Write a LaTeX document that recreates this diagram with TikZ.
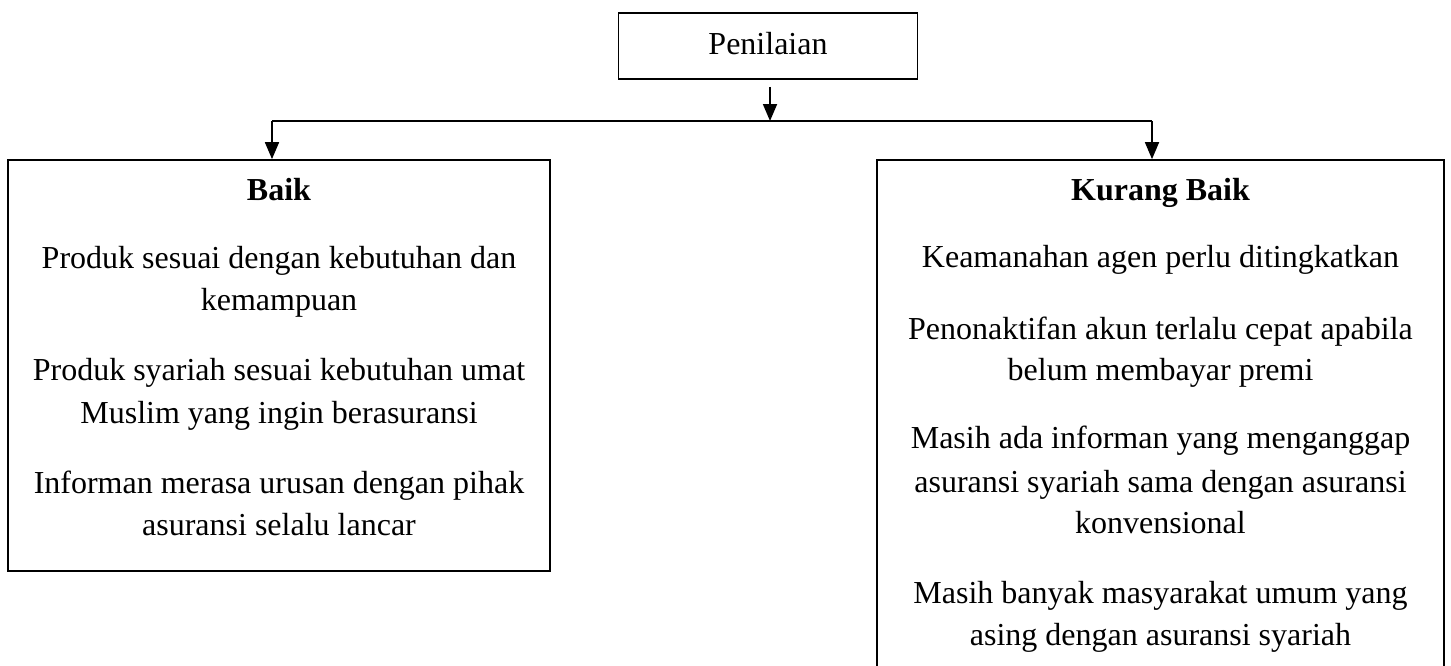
\documentclass[tikz,border=0pt]{standalone}
\usepackage{fontspec}
\setmainfont{Liberation Serif}
\usetikzlibrary{arrows.meta}
\begin{document}
\begin{tikzpicture}[x=0.75pt,y=-0.75pt,
  box/.style={draw,line width=1.3pt,inner sep=0pt,rectangle},
  txt/.style={anchor=base,inner sep=0pt,font=\fontsize{24}{29}\selectfont},
  ttl/.style={txt,font=\fontsize{24}{29}\selectfont\bfseries},
  conn/.style={line width=1.3pt},
  arr/.style={conn,-{Triangle[length=12.75pt,width=10.5pt]}}]
\useasboundingbox (0,0) rectangle (1451,665);
% boxes
\node[box,minimum width=224.25pt,minimum height=49.5pt] (pen) at (768,46) {};
\node[txt] (pent) at (768,54) {Penilaian};
\node[box,minimum width=406.5pt,minimum height=308.25pt] (baik) at (279,365.5) {};
\node[box,minimum width=425.25pt,minimum height=380.25pt] (kb) at (1160.5,413.5) {};
% connectors
\coordinate (jc) at (770,121);
\coordinate (jl) at (272,121);
\coordinate (jr) at (1152,121);
\draw[conn] (jl) -- (jr);
\draw[arr] ([yshift=-5.25pt]pen.south -| jc) -- (jc);
\draw[arr] (jl) -- (jl |- baik.north);
\draw[arr] (jr) -- (jr |- kb.north);
% left texts
\node[ttl] (b0) at (279,200) {Baik};
\node[txt] (b1) at (279,268) {Produk sesuai dengan kebutuhan dan};
\node[txt] (b2) at (279,310) {kemampuan};
\node[txt] (b3) at (279,380) {Produk syariah sesuai kebutuhan umat};
\node[txt] (b4) at (279,423) {Muslim yang ingin berasuransi};
\node[txt] (b5) at (279,493) {Informan merasa urusan dengan pihak};
\node[txt] (b6) at (279,535) {asuransi selalu lancar};
% right texts
\node[ttl] (k0) at (1160.5,200) {Kurang Baik};
\node[txt] (k1) at (1160.5,267) {Keamanahan agen perlu ditingkatkan};
\node[txt] (k2) at (1160.5,339) {Penonaktifan akun terlalu cepat apabila};
\node[txt] (k3) at (1160.5,380) {belum membayar premi};
\node[txt] (k4) at (1160.5,448) {Masih ada informan yang menganggap};
\node[txt] (k5) at (1160.5,492) {asuransi syariah sama dengan asuransi};
\node[txt] (k6) at (1160.5,533) {konvensional};
\node[txt] (k7) at (1160.5,603) {Masih banyak masyarakat umum yang};
\node[txt] (k8) at (1160.5,645) {asing dengan asuransi syariah};
\end{tikzpicture}
\end{document}
